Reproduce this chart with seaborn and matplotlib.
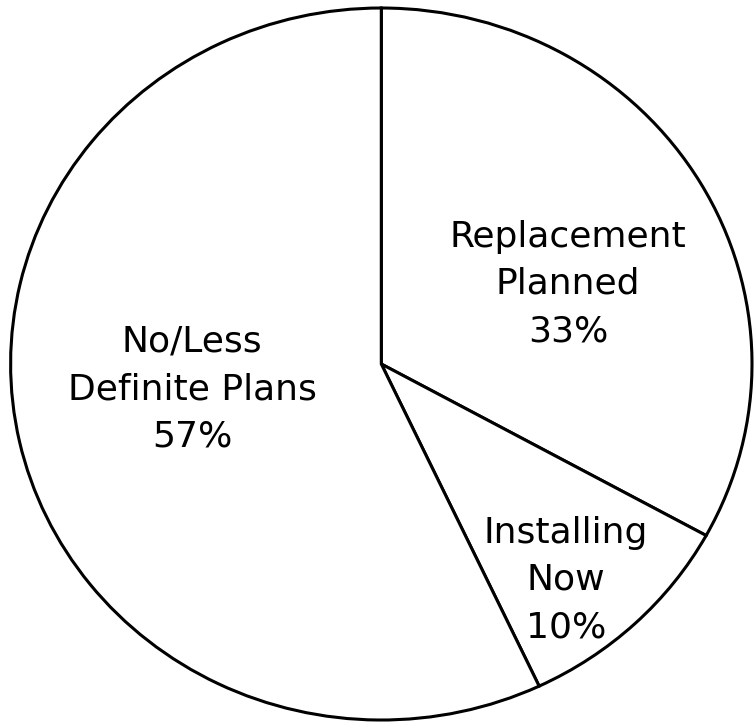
import matplotlib
matplotlib.use("Agg")
import matplotlib.pyplot as plt
import seaborn as sns

# Survey shares, clockwise from 12 o'clock
categories = ["Replacement\nPlanned", "Installing\nNow", "No/Less\nDefinite Plans"]
shares = [33, 10, 57]

sns.set_theme(style="white")
plt.rcParams["font.family"] = ["DejaVu Sans"]

fig = plt.figure(figsize=(7.54, 7.22), dpi=100)
ax = fig.add_axes([0, 0, 1, 1])

wedges, _ = ax.pie(
    shares,
    startangle=90,
    counterclock=False,
    colors=["white"] * len(shares),
    wedgeprops=dict(edgecolor="black", linewidth=2.2),
)
ax.set_aspect("auto")
ax.set_xlim(-1.0286, 1.0054)
ax.set_ylim(-1.0056, 1.0225)
ax.axis("off")

# label anchors in figure fraction
label_pos = [(568 / 754, 1 - 284 / 722), (566 / 754, 1 - 580 / 722), (192 / 754, 1 - 389 / 722)]
for name, pct, (x, y) in zip(categories, shares, label_pos):
    fig.text(x, y, f"{name}\n{pct}%", ha="center", va="center",
             fontsize=26, linespacing=1.5, color="black")

fig.savefig("out.png", dpi=100, facecolor="white")
